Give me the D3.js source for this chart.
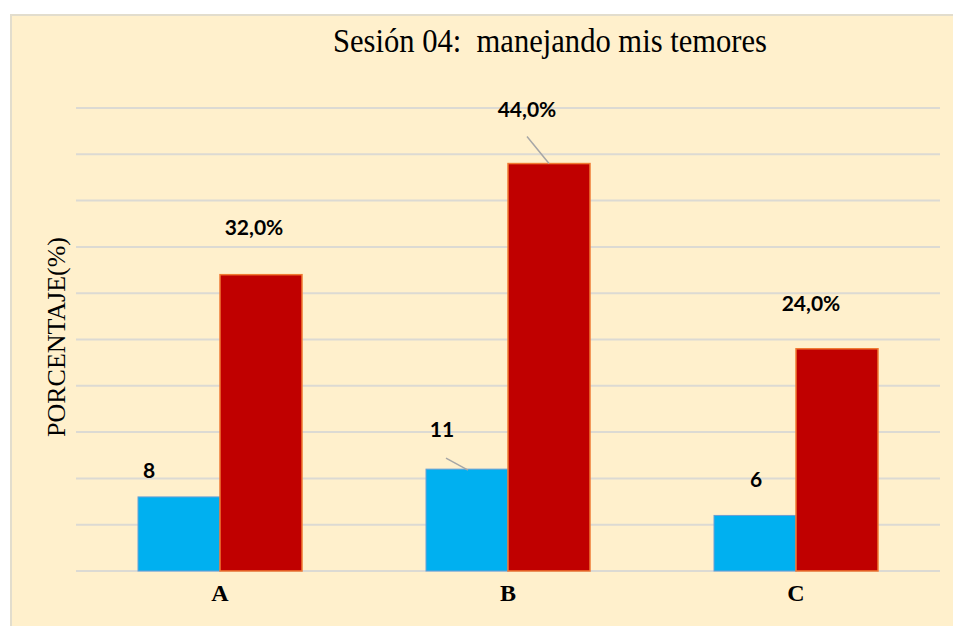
<!DOCTYPE html>
<html>
<head>
<meta charset="utf-8">
<script src="https://cdn.jsdelivr.net/npm/d3@7"></script>
<style>
    body { margin: 0; background: #ffffff; }
    svg { display: block; }
</style>
</head>
<body>
<svg id="drawing_region"></svg>
<script>
const categories = ['A', 'B', 'C'];
const counts = [8, 11, 6];
const percents = [32.0, 44.0, 24.0];
const y_ticks = [0, 5, 10, 15, 20, 25, 30, 35, 40, 45, 50];

// hand-placed label nudges (px) relative to bar top centre, like in the original sheet
const count_nudge = [[-30, -19], [-25, -32], [1, -28]];
const percent_nudge = [[-7, -40], [-22, -47], [-26, -38]];
const leader_count = [false, true, false];
const leader_percent = [false, true, false];

var config = {
    parent: '#drawing_region',
    width: 953,
    height: 626,
    margin: { top: 108, right: 13, bottom: 55, left: 76 },
};

class BarChart {
    constructor(config) {
        this.config = config;
        this.init();
    }

    init() {
        let self = this;
        self.inner_width = self.config.width - self.config.margin.left - self.config.margin.right;
        self.inner_height = self.config.height - self.config.margin.top - self.config.margin.bottom;

        self.svg = d3.select(self.config.parent)
            .attr('width', self.config.width)
            .attr('height', self.config.height);

        // chart area
        self.svg.append('rect')
            .attr('x', 11)
            .attr('y', 15)
            .attr('width', self.config.width)
            .attr('height', self.config.height)
            .attr('fill', '#fff0cc')
            .attr('stroke', '#e2ddcd')
            .attr('stroke-width', 2);

        self.chart = self.svg.append('g')
            .attr('transform', `translate(${self.config.margin.left}, ${self.config.margin.top})`);

        self.xscale = d3.scaleBand()
            .domain(categories)
            .range([0, self.inner_width])
            .paddingInner(0)
            .paddingOuter(0);

        self.subscale = d3.scaleBand()
            .domain([0, 1])
            .range([0, 164])
            .padding(0);

        self.yscale = d3.scaleLinear()
            .domain([0, 50])
            .range([self.inner_height, 0]);
    }

    render() {
        let self = this;
        const bw = self.subscale.bandwidth();
        const x0 = c => self.xscale(c) + (self.xscale.bandwidth() - 164) / 2;

        // gridlines
        self.chart.selectAll('.grid')
            .data(y_ticks)
            .enter()
            .append('line')
            .attr('x1', 0)
            .attr('x2', self.inner_width)
            .attr('y1', d => self.yscale(d))
            .attr('y2', d => self.yscale(d))
            .attr('stroke', '#dcdad3')
            .attr('stroke-width', 2);

        // bars: counts
        self.chart.selectAll('.bar_count')
            .data(categories)
            .enter()
            .append('rect')
            .attr('x', (d, i) => x0(d) + self.subscale(0))
            .attr('y', (d, i) => self.yscale(counts[i]))
            .attr('width', bw)
            .attr('height', (d, i) => self.yscale(0) - self.yscale(counts[i]))
            .attr('fill', '#00b0f0')
            .attr('stroke', '#6a9fd3')
            .attr('stroke-width', 1);

        // bars: percents
        self.chart.selectAll('.bar_percent')
            .data(categories)
            .enter()
            .append('rect')
            .attr('x', (d, i) => x0(d) + self.subscale(1))
            .attr('y', (d, i) => self.yscale(percents[i]))
            .attr('width', bw)
            .attr('height', (d, i) => self.yscale(0) - self.yscale(percents[i]))
            .attr('fill', '#c00000')
            .attr('stroke', '#f07a33')
            .attr('stroke-width', 1.5);

        // data labels
        const label_font = "Lato, 'Open Sans', sans-serif";
        categories.forEach((c, i) => {
            const cx = x0(c) + self.subscale(0) + bw / 2;
            const top = self.yscale(counts[i]);
            const lx = cx + count_nudge[i][0];
            const ly = top + count_nudge[i][1];
            if (leader_count[i]) {
                self.chart.append('line')
                    .attr('x1', lx + 4).attr('y1', ly + 21)
                    .attr('x2', lx + 26).attr('y2', top + 1)
                    .attr('stroke', '#a6a6a6').attr('stroke-width', 1.5);
            }
            self.chart.append('text')
                .attr('x', lx)
                .attr('y', ly)
                .attr('text-anchor', 'middle')
                .attr('font-family', label_font)
                .attr('font-weight', 'bold')
                .attr('font-size', '21px')
                .attr('fill', '#000')
                .text(counts[i]);

            const px = x0(c) + self.subscale(1) + bw / 2;
            const ptop = self.yscale(percents[i]);
            const plx = px + percent_nudge[i][0];
            const ply = ptop + percent_nudge[i][1];
            if (leader_percent[i]) {
                self.chart.append('line')
                    .attr('x1', plx).attr('y1', ply + 20)
                    .attr('x2', plx + 22).attr('y2', ptop)
                    .attr('stroke', '#a6a6a6').attr('stroke-width', 1.5);
            }
            self.chart.append('text')
                .attr('x', plx)
                .attr('y', ply)
                .attr('text-anchor', 'middle')
                .attr('font-family', label_font)
                .attr('font-weight', 'bold')
                .attr('font-size', '21px')
                .attr('fill', '#000')
                .text(percents[i].toFixed(1).replace('.', ',') + '%');
        });

        // category labels
        self.chart.selectAll('.cat')
            .data(categories)
            .enter()
            .append('text')
            .attr('x', d => self.xscale(d) + self.xscale.bandwidth() / 2)
            .attr('y', self.inner_height + 30)
            .attr('text-anchor', 'middle')
            .attr('font-family', "'Liberation Serif', 'Times New Roman', serif")
            .attr('font-weight', 'bold')
            .attr('font-size', '24px')
            .attr('fill', '#000')
            .text(d => d);

        // y axis title
        self.svg.append('text')
            .attr('transform', `translate(65, 337) rotate(-90)`)
            .attr('text-anchor', 'middle')
            .attr('font-family', "'Liberation Serif', 'Times New Roman', serif")
            .attr('font-size', '25px')
            .attr('textLength', 200)
            .attr('lengthAdjust', 'spacingAndGlyphs')
            .attr('fill', '#000')
            .text('PORCENTAJE(%)');

        // chart title
        self.svg.append('text')
            .attr('x', 550)
            .attr('y', 52)
            .attr('text-anchor', 'middle')
            .attr('font-family', "'Liberation Serif', 'Times New Roman', serif")
            .attr('font-size', '33px')
            .attr('textLength', 434)
            .attr('lengthAdjust', 'spacingAndGlyphs')
            .attr('fill', '#000')
            .attr('xml:space', 'preserve')
            .text('Sesión 04:  manejando mis temores');
    }
}

let bar_chart = new BarChart(config);
bar_chart.render();
</script>
</body>
</html>
